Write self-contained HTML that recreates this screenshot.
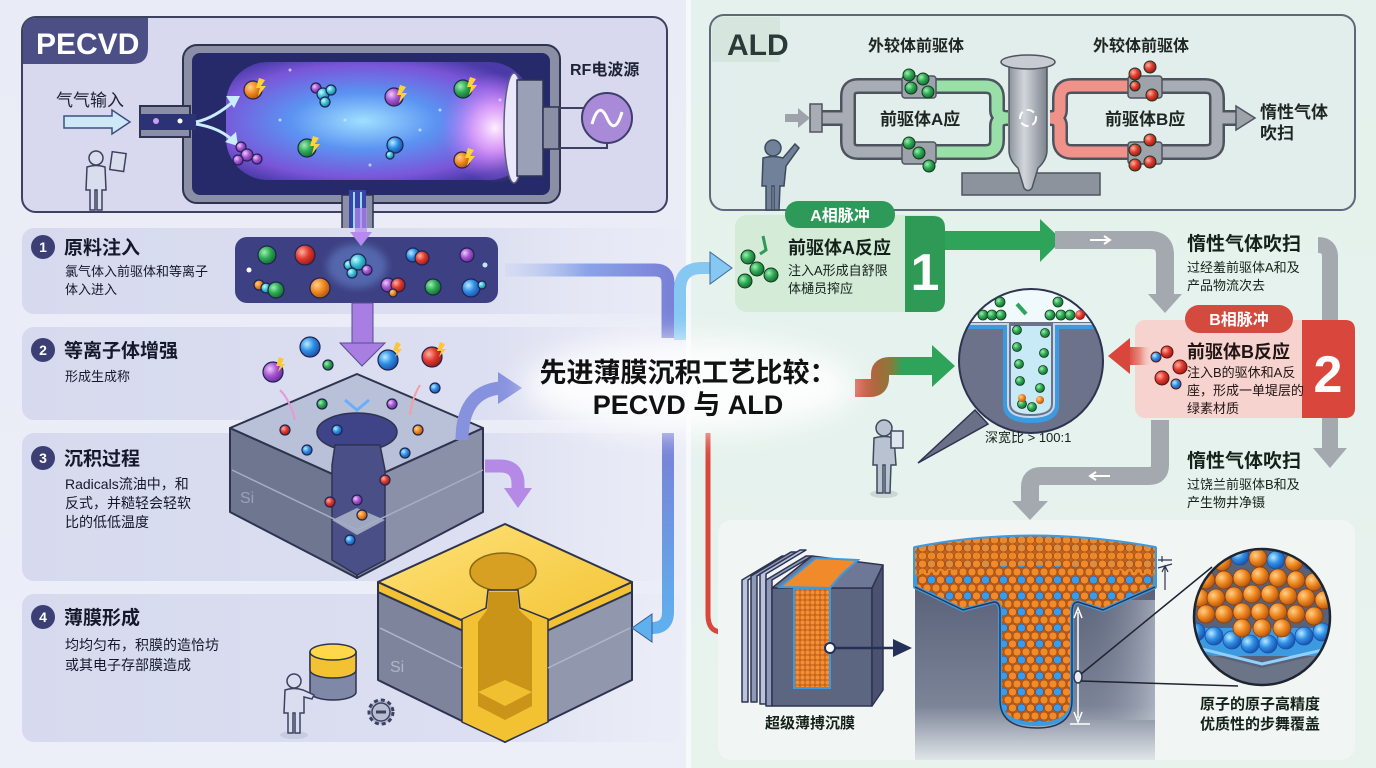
<!DOCTYPE html>
<html><head><meta charset="utf-8"><style>
html,body{margin:0;padding:0;background:#eceef7;}
svg{display:block;}
text{font-family:"Liberation Sans","Noto Sans CJK SC",sans-serif;}
</style></head><body>
<svg width="1376" height="768" viewBox="0 0 1376 768" xmlns="http://www.w3.org/2000/svg">
<defs>
<linearGradient id="bgL" x1="0" y1="0" x2="0" y2="1"><stop offset="0" stop-color="#e9ebf6"/><stop offset="1" stop-color="#eceef8"/></linearGradient>
<linearGradient id="bgR" x1="0" y1="0" x2="0" y2="1"><stop offset="0" stop-color="#e4f1ec"/><stop offset="1" stop-color="#e8f3ee"/></linearGradient>
<linearGradient id="band" x1="0" y1="0" x2="1" y2="0"><stop offset="0" stop-color="#d7daee"/><stop offset="0.7" stop-color="#dcdff1"/><stop offset="1" stop-color="#e6e8f5" stop-opacity="0.2"/></linearGradient>
<radialGradient id="plasma" cx="0.45" cy="0.5" r="0.6"><stop offset="0" stop-color="#9fe0ff"/><stop offset="0.4" stop-color="#5b93f2"/><stop offset="0.8" stop-color="#7a55d8"/><stop offset="1" stop-color="#4b3ba8"/></radialGradient>
<radialGradient id="glowR" cx="0.5" cy="0.5" r="0.5"><stop offset="0" stop-color="#fff0ff"/><stop offset="0.4" stop-color="#f0a8ff" stop-opacity="0.8"/><stop offset="1" stop-color="#c070ff" stop-opacity="0"/></radialGradient>
<radialGradient id="bO" cx="0.35" cy="0.35" r="0.7"><stop offset="0" stop-color="#ffd08a"/><stop offset="0.5" stop-color="#f08a22"/><stop offset="1" stop-color="#b05210"/></radialGradient>
<radialGradient id="bG" cx="0.35" cy="0.35" r="0.7"><stop offset="0" stop-color="#9ef0b0"/><stop offset="0.5" stop-color="#2faa55"/><stop offset="1" stop-color="#146a30"/></radialGradient>
<radialGradient id="bB" cx="0.35" cy="0.35" r="0.7"><stop offset="0" stop-color="#b8ecff"/><stop offset="0.5" stop-color="#2f8fe6"/><stop offset="1" stop-color="#1a4fa8"/></radialGradient>
<radialGradient id="bC" cx="0.35" cy="0.35" r="0.7"><stop offset="0" stop-color="#c8fbff"/><stop offset="0.5" stop-color="#3cc0d8"/><stop offset="1" stop-color="#1a7a98"/></radialGradient>
<radialGradient id="bP" cx="0.35" cy="0.35" r="0.7"><stop offset="0" stop-color="#f0c8ff"/><stop offset="0.5" stop-color="#a555d0"/><stop offset="1" stop-color="#6a2a98"/></radialGradient>
<radialGradient id="bR" cx="0.35" cy="0.35" r="0.7"><stop offset="0" stop-color="#ffb0a0"/><stop offset="0.5" stop-color="#e03a30"/><stop offset="1" stop-color="#981a14"/></radialGradient>
<linearGradient id="reactor" x1="0" y1="0" x2="1" y2="0"><stop offset="0" stop-color="#8d939c"/><stop offset="0.4" stop-color="#d2d6dc"/><stop offset="1" stop-color="#7d838c"/></linearGradient>
<linearGradient id="trenchBody" x1="0" y1="0" x2="0" y2="1"><stop offset="0" stop-color="#586078"/><stop offset="0.7" stop-color="#7c8498"/><stop offset="1" stop-color="#dfe5e8"/></linearGradient>
<linearGradient id="trenchBody2" x1="0" y1="0" x2="1" y2="0"><stop offset="0" stop-color="#586078" stop-opacity="0"/><stop offset="1" stop-color="#c8ced8" stop-opacity="0.6"/></linearGradient>
<linearGradient id="blueArr" x1="0" y1="0" x2="1" y2="0"><stop offset="0" stop-color="#b8c8f0" stop-opacity="0.2"/><stop offset="0.5" stop-color="#8aa4e8"/><stop offset="1" stop-color="#7a82d8"/></linearGradient>
<linearGradient id="blueDown" x1="0" y1="0" x2="0" y2="1"><stop offset="0" stop-color="#7a7fd6"/><stop offset="1" stop-color="#5fb0ee"/></linearGradient>
<linearGradient id="rg" x1="0" y1="0" x2="1" y2="0"><stop offset="0" stop-color="#d8473a"/><stop offset="0.45" stop-color="#8a7a3a"/><stop offset="0.6" stop-color="#2ea35a"/><stop offset="1" stop-color="#2ea35a"/></linearGradient>
<linearGradient id="redArr" x1="1" y1="0" x2="0" y2="0"><stop offset="0" stop-color="#f6d3ce" stop-opacity="0"/><stop offset="0.5" stop-color="#ea8a80"/><stop offset="1" stop-color="#d9473c"/></linearGradient>
<linearGradient id="goldTop" x1="0" y1="0" x2="1" y2="1"><stop offset="0" stop-color="#ffe27a"/><stop offset="1" stop-color="#f2c230"/></linearGradient>
<pattern id="atoms" width="9" height="8" patternUnits="userSpaceOnUse"><rect width="9" height="8" fill="#c0601c"/><circle cx="4.5" cy="4" r="4" fill="#f08a2a" stroke="#8a3d0e" stroke-width="0.5"/></pattern>
<pattern id="atomsB" width="18" height="16" patternUnits="userSpaceOnUse"><rect width="18" height="16" fill="#b85a1a"/><circle cx="4.5" cy="4" r="4" fill="#f08a2a" stroke="#8a3d0e" stroke-width="0.5"/><circle cx="13.5" cy="4" r="4" fill="#3a9be6" stroke="#1a4fa8" stroke-width="0.5"/><circle cx="9" cy="12" r="4" fill="#f08a2a" stroke="#8a3d0e" stroke-width="0.5"/><circle cx="0" cy="12" r="4" fill="#f08a2a" stroke="#8a3d0e" stroke-width="0.5"/><circle cx="18" cy="12" r="4" fill="#f08a2a" stroke="#8a3d0e" stroke-width="0.5"/></pattern>
<pattern id="atomsS" width="5" height="5" patternUnits="userSpaceOnUse"><rect width="5" height="5" fill="#c8661e"/><circle cx="2.5" cy="2.5" r="2" fill="#f29035"/></pattern>
<clipPath id="magClip"><circle cx="1262" cy="617" r="68"/></clipPath>
<clipPath id="trClip"><circle cx="1031" cy="361" r="72"/></clipPath>
<filter id="blur" x="-50%" y="-50%" width="200%" height="200%"><feGaussianBlur stdDeviation="14"/></filter>
<filter id="blur4"><feGaussianBlur stdDeviation="4"/></filter>
</defs>

<!-- backgrounds -->
<rect x="0" y="0" width="689" height="768" fill="url(#bgL)"/>
<rect x="689" y="0" width="687" height="768" fill="url(#bgR)"/>
<rect x="686" y="0" width="5" height="768" fill="#f6f8fb"/>

<!-- ============ PECVD PANEL ============ -->
<rect x="22" y="17" width="645" height="195" rx="14" fill="#d8d8ee" stroke="#3d4160" stroke-width="2"/>
<path d="M23,31 Q23,18 36,18 H148 V48 Q148,64 132,64 H23 Z" fill="#4b4f85"/>
<text x="36" y="54" font-size="30" font-weight="bold" fill="#ffffff">PECVD</text>

<text x="56" y="106" font-size="17" fill="#1e2235">气气输入</text>
<path d="M64,116 H112 V110 L130,122 L112,134 V128 H64 Z" fill="#cfe8f8" stroke="#3d5080" stroke-width="1.5"/>

<!-- chamber -->
<rect x="183" y="45" width="377" height="158" rx="14" fill="#8a8fa6" stroke="#2e3350" stroke-width="2"/>
<rect x="140" y="106" width="50" height="31" fill="#8a8fa6" stroke="#2e3350" stroke-width="2"/>
<rect x="192" y="53" width="358" height="142" rx="8" fill="#262a6a"/>
<rect x="140" y="114" width="56" height="16" fill="#2c3276"/>
<rect x="226" y="62" width="305" height="118" rx="42" fill="url(#plasma)"/>
<ellipse cx="495" cy="128" rx="55" ry="55" fill="url(#glowR)"/>
<path d="M196,122 Q215,118 235,100" stroke="#c9ecff" stroke-width="3" fill="none"/>
<path d="M226,96 L240,96 L234,108 Z" fill="#c9ecff"/>
<path d="M196,124 Q220,128 232,140" stroke="#c9ecff" stroke-width="3" fill="none"/>
<path d="M225,142 L238,146 L236,132 Z" fill="#c9ecff"/>
<circle cx="156" cy="121" r="3" fill="#c9a0f0"/><circle cx="180" cy="121" r="2.5" fill="#ffffff"/>
<ellipse cx="514" cy="128" rx="10" ry="55" fill="#ece8fb" stroke="#5a5f80" stroke-width="1.5"/>
<rect x="517" y="80" width="26" height="96" fill="#9aa0b6" stroke="#2e3350" stroke-width="1.5"/>
<rect x="543" y="107" width="16" height="42" fill="#8a8fa6" stroke="#2e3350" stroke-width="1.5"/>
<path d="M559,108 H607 V92 M559,148 H607 V144" stroke="#3d4160" stroke-width="2" fill="none"/>
<circle cx="607" cy="118" r="25" fill="#a98ad9" stroke="#3d3f6a" stroke-width="2"/>
<path d="M592,124 Q599,100 607,118 Q615,136 622,112" stroke="#fff" stroke-width="3" fill="none"/>
<text x="570" y="75" font-size="16" font-weight="bold" fill="#1e2235">RF电波源</text>
<rect x="342" y="195" width="31" height="45" fill="#8a8fa6" stroke="#2e3350" stroke-width="1.5"/>
<rect x="349" y="190" width="17" height="52" fill="#3a44a8"/>
<path d="M354,192 V240 M361,192 V240" stroke="#9ad8ff" stroke-width="2"/>
<g stroke="#1f2450" stroke-width="1.2">
<circle cx="253" cy="90" r="9" fill="url(#bO)"/>
<circle cx="316" cy="88" r="5" fill="url(#bP)"/><circle cx="323" cy="94" r="6" fill="url(#bC)"/><circle cx="331" cy="90" r="5" fill="url(#bC)"/><circle cx="325" cy="102" r="5" fill="url(#bC)"/>
<circle cx="394" cy="97" r="9" fill="url(#bP)"/>
<circle cx="463" cy="89" r="9" fill="url(#bG)"/>
<circle cx="241" cy="147" r="5" fill="url(#bP)"/><circle cx="247" cy="155" r="6" fill="url(#bP)"/><circle cx="238" cy="160" r="5" fill="url(#bP)"/><circle cx="257" cy="159" r="5" fill="url(#bP)"/>
<circle cx="307" cy="148" r="9" fill="url(#bG)"/>
<circle cx="395" cy="145" r="8" fill="url(#bB)"/><circle cx="390" cy="155" r="4" fill="url(#bC)"/>
<circle cx="462" cy="160" r="8" fill="url(#bO)"/>
</g>
<g fill="#ffd23a"><path d="M259,78 L265,80 L261,86 L266,86 L258,96 L260,88 L256,88 Z"/><path d="M400,85 L406,87 L402,93 L407,93 L399,103 L401,95 L397,95 Z"/><path d="M470,77 L476,79 L472,85 L477,85 L469,95 L471,87 L467,87 Z"/><path d="M313,136 L319,138 L315,144 L320,144 L312,154 L314,146 L310,146 Z"/><path d="M468,148 L474,150 L470,156 L475,156 L467,166 L469,158 L465,158 Z"/></g>
<g fill="#cfe0ff" opacity="0.8"><circle cx="290" cy="70" r="1.5"/><circle cx="345" cy="120" r="1.5"/><circle cx="420" cy="130" r="1.5"/><circle cx="280" cy="120" r="1.5"/><circle cx="440" cy="110" r="1.5"/><circle cx="370" cy="165" r="1.5"/><circle cx="500" cy="100" r="1.5"/></g>

<g transform="translate(96,210)" fill="#dadded" stroke="#3d4160" stroke-width="1.5">
<circle cx="0" cy="-52" r="7"/>
<path d="M-9,-43 Q0,-46 9,-43 L10,-20 L6,-20 L6,0 L1,0 L1,-20 L-1,-20 L-1,0 L-6,0 L-6,-20 L-10,-20 Z"/>
<rect x="8" y="-60" width="14" height="18" transform="rotate(8)"/>
</g>

<!-- ============ STEP BANDS ============ -->
<rect x="22" y="228" width="660" height="86" rx="12" fill="url(#band)"/>
<rect x="22" y="327" width="660" height="93" rx="12" fill="url(#band)"/>
<rect x="22" y="433" width="660" height="148" rx="12" fill="url(#band)"/>
<rect x="22" y="594" width="660" height="148" rx="12" fill="url(#band)"/>

<g font-weight="bold" fill="#ffffff" font-size="14" text-anchor="middle">
<circle cx="43" cy="247" r="12" fill="#3c3f73"/><text x="43" y="252">1</text>
<circle cx="43" cy="350" r="12" fill="#3c3f73"/><text x="43" y="355">2</text>
<circle cx="43" cy="458" r="12" fill="#3c3f73"/><text x="43" y="463">3</text>
<circle cx="43" cy="617" r="12" fill="#3c3f73"/><text x="43" y="622">4</text>
</g>
<g fill="#14182a">
<text x="64" y="254" font-size="19" font-weight="bold">原料注入</text>
<text x="65" y="276" font-size="13">氯气体入前驱体和等离子</text>
<text x="65" y="294" font-size="13">体入进入</text>
<text x="64" y="357" font-size="19" font-weight="bold">等离子体增强</text>
<text x="65" y="381" font-size="13">形成生成称</text>
<text x="64" y="465" font-size="19" font-weight="bold">沉积过程</text>
<text x="65" y="489" font-size="14">Radicals流油中，和</text>
<text x="65" y="508" font-size="14">反式，并糙轻会轻软</text>
<text x="65" y="527" font-size="14">比的低低温度</text>
<text x="64" y="624" font-size="19" font-weight="bold">薄膜形成</text>
<text x="65" y="650" font-size="14">均均匀布，积膜的造恰坊</text>
<text x="65" y="670" font-size="14">或其电子存部膜造成</text>
</g>

<rect x="235" y="237" width="263" height="66" rx="12" fill="#3d4082"/>
<ellipse cx="357" cy="266" rx="30" ry="22" fill="#7fb0ff" opacity="0.35" filter="url(#blur4)"/>
<g stroke="#1f2450" stroke-width="1.2">
<circle cx="267" cy="255" r="9" fill="url(#bG)"/>
<circle cx="305" cy="255" r="10" fill="url(#bR)"/>
<circle cx="349" cy="265" r="5" fill="url(#bC)"/><circle cx="358" cy="262" r="8" fill="url(#bC)"/><circle cx="367" cy="270" r="5" fill="url(#bP)"/><circle cx="352" cy="273" r="5" fill="url(#bC)"/>
<circle cx="413" cy="255" r="7" fill="url(#bB)"/><circle cx="422" cy="258" r="7" fill="url(#bR)"/>
<circle cx="467" cy="255" r="7" fill="url(#bP)"/>
<circle cx="259" cy="285" r="5" fill="url(#bO)"/><circle cx="266" cy="288" r="5" fill="url(#bC)"/><circle cx="276" cy="290" r="8" fill="url(#bG)"/>
<circle cx="320" cy="288" r="10" fill="url(#bO)"/>
<circle cx="388" cy="285" r="7" fill="url(#bP)"/><circle cx="398" cy="285" r="7" fill="url(#bR)"/><circle cx="393" cy="293" r="4" fill="url(#bO)"/>
<circle cx="433" cy="287" r="8" fill="url(#bG)"/>
<circle cx="471" cy="288" r="9" fill="url(#bB)"/><circle cx="482" cy="285" r="4" fill="url(#bC)"/>
</g>
<circle cx="249" cy="270" r="2.5" fill="#fff"/><circle cx="485" cy="265" r="2.5" fill="#bfe8ff"/>

<rect x="355" y="208" width="12" height="26" fill="#b78af0" opacity="0.7"/>
<path d="M350,232 L372,232 L361,246 Z" fill="#b78af0"/>
<rect x="352" y="303" width="21" height="42" fill="#a97ee2" stroke="#5a4a90" stroke-width="1"/>
<path d="M340,343 L385,343 L362,366 Z" fill="#a97ee2" stroke="#5a4a90" stroke-width="1"/>

<!-- Si block 1 -->
<g stroke="#2e3350" stroke-width="2" stroke-linejoin="round">
<path d="M230,428 L357,485 L357,578 L230,512 Z" fill="#6f7690"/>
<path d="M357,485 L483,428 L483,512 L357,578 Z" fill="#8a90a8"/>
<path d="M230,428 L357,374 L483,428 L357,485 Z" fill="#b9c1d8"/>
</g>
<ellipse cx="357" cy="432" rx="40" ry="19" fill="#3f4388" stroke="#2e3350" stroke-width="1.5"/>
<path d="M335,445 L380,445 L385,470 L385,560 L357,575 L332,560 L332,465 Z" fill="#4a4f88" stroke="#2e3350" stroke-width="1.5"/>
<path d="M332,520 L357,508 L385,520 L357,535 Z" fill="#9ea6c0"/>
<path d="M232,470 L357,530 M357,530 L483,470" stroke="#a7aec4" stroke-width="1.5"/>
<text x="240" y="503" font-size="16" fill="#9aa2b8">Si</text>
<g stroke="#1f2450" stroke-width="1.2">
<circle cx="310" cy="347" r="10" fill="url(#bB)"/>
<circle cx="273" cy="372" r="10" fill="url(#bP)"/>
<circle cx="328" cy="365" r="5" fill="url(#bG)"/>
<circle cx="388" cy="360" r="10" fill="url(#bB)"/>
<circle cx="432" cy="357" r="10" fill="url(#bR)"/>
<circle cx="435" cy="388" r="5" fill="url(#bB)"/>
<circle cx="322" cy="404" r="5" fill="url(#bG)"/>
<circle cx="392" cy="404" r="5" fill="url(#bP)"/>
<circle cx="285" cy="430" r="5" fill="url(#bR)"/>
<circle cx="337" cy="430" r="5" fill="url(#bB)"/>
<circle cx="418" cy="430" r="5" fill="url(#bO)"/>
<circle cx="307" cy="450" r="5" fill="url(#bB)"/>
<circle cx="405" cy="453" r="5" fill="url(#bB)"/>
<circle cx="357" cy="500" r="5" fill="url(#bP)"/>
<circle cx="385" cy="480" r="5" fill="url(#bR)"/>
<circle cx="330" cy="502" r="5" fill="url(#bR)"/>
<circle cx="362" cy="515" r="5" fill="url(#bO)"/>
<circle cx="350" cy="540" r="5" fill="url(#bB)"/>
</g>
<g fill="#ffc53a"><path d="M279,357 L284,359 L281,364 L285,364 L278,372 L280,366 L276,366 Z"/><path d="M396,342 L401,344 L398,349 L402,349 L395,357 L397,351 L393,351 Z"/><path d="M440,342 L445,344 L442,349 L446,349 L439,357 L441,351 L437,351 Z"/></g>
<path d="M345,400 L357,410 L369,400" stroke="#6aaef8" stroke-width="3" fill="none"/>
<path d="M280,390 Q290,400 295,420" stroke="#e49ad8" stroke-width="2" fill="none"/>
<path d="M420,385 Q412,398 410,415" stroke="#f0a0a0" stroke-width="2" fill="none"/>

<path d="M462,440 Q462,392 500,388" stroke="#8792de" stroke-width="13" fill="none"/>
<path d="M498,372 L522,388 L498,404 Z" fill="#8792de"/>
<path d="M485,466 H500 Q518,466 518,484 V490" stroke="#b48ae6" stroke-width="13" fill="none"/>
<path d="M504,488 L532,488 L518,508 Z" fill="#b48ae6"/>

<!-- gold block -->
<g stroke="#2e3350" stroke-width="2" stroke-linejoin="round">
<path d="M378,582 L505,640 L505,742 L378,680 Z" fill="#7d849c"/>
<path d="M505,640 L632,582 L632,680 L505,742 Z" fill="#9197ad"/>
<path d="M378,582 L378,592 L505,650 L632,592 L632,582 L505,640 Z" fill="#f2c232"/>
<path d="M378,582 L505,524 L632,582 L505,640 Z" fill="url(#goldTop)"/>
</g>
<ellipse cx="503" cy="572" rx="33" ry="19" fill="#d8a022" stroke="#8a6a10" stroke-width="1.5"/>
<path d="M462,619 L486,608 L488,590 L518,590 L520,608 L548,619 L548,722 L505,742 L462,722 Z" fill="#f2c232" stroke="#2e3350" stroke-width="1.5"/>
<path d="M489,592 L517,592 L519,610 L532,622 L532,706 L505,720 L478,706 L478,622 L487,610 Z" fill="#c99418"/>
<path d="M478,692 L505,680 L532,692 L505,706 Z" fill="#f0c030"/>
<path d="M380,628 L462,668 M548,668 L630,628" stroke="#b0b6c8" stroke-width="1.5"/>
<text x="390" y="672" font-size="16" fill="#b0b6c8">Si</text>

<g stroke="#2e3350" stroke-width="1.5">
<path d="M310,652 V692 A23,8 0 0 0 356,692 V652 Z" fill="#8088a8"/>
<path d="M310,652 V670 A23,8 0 0 0 356,670 V652 Z" fill="#f2c232"/>
<ellipse cx="333" cy="652" rx="23" ry="8" fill="#ffd84a"/>
</g>
<ellipse cx="294" cy="735" rx="14" ry="4" fill="#c8cce0"/>
<g transform="translate(294,733)" fill="#dadded" stroke="#3d4160" stroke-width="1.5">
<circle cx="0" cy="-52" r="7"/>
<path d="M-9,-43 Q0,-46 9,-43 L20,-38 L18,-34 L10,-36 L10,-20 L6,-20 L6,0 L1,0 L1,-20 L-1,-20 L-1,0 L-6,0 L-6,-20 L-10,-20 Z"/>
</g>
<g transform="translate(381,712)"><circle r="12" fill="#b8bed2" stroke="#3d4160" stroke-width="3" stroke-dasharray="4 3"/><circle r="9" fill="#b8bed2" stroke="#3d4160" stroke-width="1.5"/><rect x="-5" y="-1.5" width="10" height="3" fill="#3d4160"/></g>

<path d="M505,270 H655 Q668,270 668,283 V338" stroke="url(#blueArr)" stroke-width="13" fill="none"/>
<path d="M668,433 V612 Q668,628 652,628 H650" stroke="url(#blueDown)" stroke-width="12" fill="none"/>
<path d="M652,614 L632,628 L652,642 Z" fill="#5fb0ee" stroke="#3d5a90" stroke-width="1"/>
<path d="M680,340 V290 Q680,268 702,268 H712" stroke="#86c8f2" stroke-width="12" fill="none"/>
<path d="M710,252 L732,268 L710,284 Z" fill="#86c8f2" stroke="#3d6a9a" stroke-width="1"/>

<!-- ============ ALD PANEL ============ -->
<rect x="710" y="15" width="645" height="195" rx="14" fill="#e2eeeb" stroke="#5f6878" stroke-width="2"/>
<path d="M712,29 Q712,17 724,17 H780 V62 H712 Z" fill="#d6e6df"/>
<text x="727" y="55" font-size="30" font-weight="bold" fill="#2a3a38">ALD</text>
<text x="868" y="51" font-size="16" font-weight="bold" fill="#1e2622">外较体前驱体</text>
<text x="1093" y="51" font-size="16" font-weight="bold" fill="#1e2622">外较体前驱体</text>

<path d="M816,118 H848 M848,118 V96 Q848,86 858,86 H985 Q997,86 997,98 V110 Q997,118 1008,118 M848,118 V142 Q848,152 858,152 H985 Q997,152 997,140 V126 Q997,118 1008,118" stroke="#4e545e" stroke-width="16" fill="none"/>
<path d="M816,118 H848 M848,118 V96 Q848,86 858,86 H930 M848,118 V142 Q848,152 858,152 H930" stroke="#a8adb5" stroke-width="11" fill="none"/>
<path d="M930,86 H985 Q997,86 997,98 V110 Q997,118 1008,118 M930,152 H985 Q997,152 997,140 V126 Q997,118 1008,118" stroke="#98e0a8" stroke-width="11" fill="none"/>
<rect x="810" y="104" width="12" height="28" fill="#a8adb5" stroke="#4e545e" stroke-width="1.5"/>
<path d="M785,114 H798 V108 L810,118 L798,128 V122 H785 Z" fill="#9ea3ab"/>
<path d="M1050,118 Q1060,118 1060,110 V98 Q1060,86 1072,86 H1205 Q1217,86 1217,98 V142 Q1217,152 1205,152 H1072 Q1060,152 1060,140 V126 Q1060,118 1050,118 M1217,118 H1238" stroke="#4e545e" stroke-width="16" fill="none"/>
<path d="M1130,86 H1205 Q1217,86 1217,98 V142 Q1217,152 1205,152 H1130 M1217,118 H1238" stroke="#a8adb5" stroke-width="11" fill="none"/>
<path d="M1050,118 Q1060,118 1060,110 V98 Q1060,86 1072,86 H1130 M1050,118 Q1060,118 1060,126 V140 Q1060,152 1072,152 H1130" stroke="#f0928a" stroke-width="11" fill="none"/>
<path d="M1236,106 L1255,118 L1236,130 Z" fill="#9ea3ab" stroke="#4e545e" stroke-width="1.5"/>
<g stroke="#4e545e" stroke-width="1.5" fill="#9ea3ab">
<rect x="902" y="76" width="34" height="22" rx="3"/><rect x="902" y="142" width="34" height="22" rx="3"/>
<rect x="1128" y="76" width="34" height="22" rx="3"/><rect x="1128" y="142" width="34" height="22" rx="3"/>
</g>
<g stroke="#14381e" stroke-width="1">
<circle cx="909" cy="75" r="6" fill="url(#bG)"/><circle cx="923" cy="79" r="6" fill="url(#bG)"/><circle cx="911" cy="88" r="6" fill="url(#bG)"/><circle cx="928" cy="92" r="6" fill="url(#bG)"/>
<circle cx="909" cy="143" r="6" fill="url(#bG)"/><circle cx="919" cy="153" r="6" fill="url(#bG)"/><circle cx="929" cy="166" r="6" fill="url(#bG)"/>
<circle cx="1135" cy="74" r="6" fill="url(#bR)"/><circle cx="1150" cy="67" r="6" fill="url(#bR)"/><circle cx="1135" cy="86" r="5" fill="url(#bR)"/><circle cx="1152" cy="95" r="6" fill="url(#bR)"/>
<circle cx="1150" cy="140" r="6" fill="url(#bR)"/><circle cx="1135" cy="150" r="6" fill="url(#bR)"/><circle cx="1135" cy="165" r="6" fill="url(#bR)"/><circle cx="1150" cy="162" r="6" fill="url(#bR)"/>
</g>
<rect x="962" y="173" width="138" height="22" fill="#8d939c" stroke="#4e545e" stroke-width="1.5"/>
<path d="M1009,62 V150 Q1009,160 1018,168 L1024,188 Q1028,193 1032,188 L1038,168 Q1047,160 1047,150 V62 Z" fill="url(#reactor)" stroke="#4e545e" stroke-width="1.5"/>
<ellipse cx="1028" cy="62" rx="27" ry="7" fill="#c8ccd2" stroke="#4e545e" stroke-width="1.5"/>
<circle cx="1028" cy="118" r="8" fill="none" stroke="#ffffff" stroke-width="2" stroke-dasharray="8 4"/>
<text x="880" y="125" font-size="17" font-weight="bold" fill="#1e2622">前驱体A应</text>
<text x="1105" y="125" font-size="17" font-weight="bold" fill="#1e2622">前驱体B应</text>
<text x="1260" y="118" font-size="17" font-weight="bold" fill="#1e2622">惰性气体</text>
<text x="1260" y="139" font-size="17" font-weight="bold" fill="#1e2622">吹扫</text>
<g transform="translate(773,210)" fill="#71819a" stroke="#3d4a5e" stroke-width="1.5">
<circle cx="0" cy="-62" r="8"/>
<path d="M-10,-52 Q0,-55 10,-52 L22,-66 L26,-62 L13,-44 L11,-24 L7,-24 L6,0 L1,0 L1,-24 L-1,-24 L-1,0 L-7,0 L-7,-24 L-11,-24 Z"/>
</g>

<!-- A phase box -->
<rect x="735" y="215" width="210" height="97" rx="12" fill="#d3ebd7"/>
<path d="M905,216 H933 Q945,216 945,228 V300 Q945,312 933,312 H905 Z" fill="#2e9a55"/>
<text x="925" y="290" font-size="52" font-weight="bold" fill="#ffffff" text-anchor="middle">1</text>
<rect x="785" y="201" width="110" height="27" rx="13" fill="#2e9a5a"/>
<text x="840" y="221" font-size="16" font-weight="bold" fill="#ffffff" text-anchor="middle">A相脉冲</text>
<text x="788" y="254" font-size="18" font-weight="bold" fill="#14201a">前驱体A反应</text>
<text x="788" y="275" font-size="13" fill="#14201a">注入A形成自舒限</text>
<text x="788" y="293" font-size="13" fill="#14201a">体樋员搾应</text>
<g stroke="#14381e" stroke-width="1">
<circle cx="748" cy="257" r="7" fill="url(#bG)"/><circle cx="757" cy="269" r="7" fill="url(#bG)"/><circle cx="771" cy="275" r="7" fill="url(#bG)"/><circle cx="745" cy="281" r="7" fill="url(#bG)"/>
</g>
<path d="M763,236 L766,250 L760,254" stroke="#2e9a55" stroke-width="3" fill="none"/>

<rect x="945" y="231" width="97" height="19" fill="#2ea35a"/>
<path d="M1040,219 L1062,240 L1040,262 Z" fill="#2ea35a"/>
<path d="M1055,240 H1150 Q1165,240 1165,255 V296" stroke="#a4a8af" stroke-width="18" fill="none"/>
<path d="M1148,294 L1182,294 L1165,313 Z" fill="#a4a8af"/>
<path d="M1090,240 H1108 M1104,236 L1110,240 L1104,244" stroke="#ffffff" stroke-width="2" fill="none"/>
<text x="1187" y="250" font-size="19" font-weight="bold" fill="#14201a">惰性气体吹扫</text>
<text x="1187" y="272" font-size="13" fill="#14201a">过经羞前驱体A和及</text>
<text x="1187" y="290" font-size="13" fill="#14201a">产品物流次去</text>
<path d="M1318,245 Q1330,245 1330,257 V450" stroke="#a4a8af" stroke-width="16" fill="none"/>
<path d="M1313,448 L1347,448 L1330,468 Z" fill="#a4a8af"/>

<!-- B phase box -->
<rect x="1135" y="320" width="220" height="98" rx="10" fill="#f6d3ce"/>
<path d="M1302,320 H1345 Q1355,320 1355,330 V408 Q1355,418 1345,418 H1302 Z" fill="#d9473c"/>
<text x="1328" y="392" font-size="52" font-weight="bold" fill="#ffffff" text-anchor="middle">2</text>
<rect x="1185" y="305" width="108" height="28" rx="14" fill="#d44a3e"/>
<text x="1239" y="325" font-size="16" font-weight="bold" fill="#ffffff" text-anchor="middle">B相脉冲</text>
<text x="1187" y="358" font-size="18" font-weight="bold" fill="#201414">前驱体B反应</text>
<text x="1187" y="377" font-size="13" fill="#201414">注入B的驱休和A反</text>
<text x="1187" y="395" font-size="13" fill="#201414">座，形成一单堤层的</text>
<text x="1187" y="413" font-size="13" fill="#201414">绿素材质</text>
<g stroke="#5a1414" stroke-width="1">
<circle cx="1156" cy="357" r="5" fill="url(#bB)"/><circle cx="1167" cy="352" r="6" fill="url(#bR)"/><circle cx="1180" cy="367" r="7" fill="url(#bR)"/><circle cx="1162" cy="378" r="7" fill="url(#bR)"/><circle cx="1176" cy="384" r="5" fill="url(#bB)"/>
</g>
<rect x="1128" y="347" width="24" height="18" fill="url(#redArr)"/>
<path d="M1130,338 L1108,356 L1130,374 Z" fill="#d9473c"/>

<!-- magnified trench circle -->
<path d="M975,410 L988,424 L918,463 Z" fill="#6a7088" stroke="#2e3350" stroke-width="1.5"/>
<circle cx="1031" cy="361" r="72" fill="#e8f6fb"/>
<g clip-path="url(#trClip)">
<rect x="950" y="320" width="170" height="120" fill="#6b7289"/>
<path d="M950,326 H1006 V405 Q1006,420 1031,420 Q1056,420 1056,405 V326 H1110" stroke="#3c9be0" stroke-width="6" fill="none"/>
<path d="M950,324 H1008 V404 Q1008,417 1031,417 Q1054,417 1054,404 V324 H1110" stroke="#c8d8ea" stroke-width="2" fill="none"/>
<path d="M1011,326 V404 Q1011,414 1031,414 Q1051,414 1051,404 V326 Z" fill="#c8eaf6"/>
<rect x="950" y="290" width="170" height="32" fill="#f0f9fc"/>
</g>
<circle cx="1031" cy="361" r="72" fill="none" stroke="#2e3350" stroke-width="2"/>
<g stroke="#14381e" stroke-width="0.8" fill="url(#bG)">
<circle cx="983" cy="315" r="5"/><circle cx="992" cy="315" r="5"/><circle cx="1001" cy="315" r="5"/><circle cx="1000" cy="302" r="5"/>
<circle cx="1050" cy="315" r="5"/><circle cx="1061" cy="315" r="5"/><circle cx="1070" cy="315" r="5"/><circle cx="1058" cy="302" r="5"/>
<circle cx="1017" cy="330" r="4.5"/><circle cx="1017" cy="347" r="4.5"/><circle cx="1019" cy="364" r="4.5"/><circle cx="1020" cy="381" r="4.5"/><circle cx="1022" cy="404" r="4.5"/><circle cx="1032" cy="407" r="4.5"/>
<circle cx="1045" cy="333" r="4.5"/><circle cx="1044" cy="353" r="4.5"/><circle cx="1043" cy="370" r="4.5"/><circle cx="1040" cy="388" r="4.5"/>
</g>
<circle cx="1022" cy="398" r="4" fill="url(#bO)"/><circle cx="1040" cy="400" r="4" fill="url(#bO)"/><circle cx="1080" cy="315" r="5" fill="url(#bR)"/>
<path d="M1017,304 L1026,314" stroke="#2ea35a" stroke-width="4"/>
<text x="985" y="442" font-size="13" fill="#14201a">深宽比 &gt; 100:1</text>

<path d="M855,388 H870 Q880,388 880,378 V374 Q880,366 890,366 H934" stroke="url(#rg)" stroke-width="18" fill="none"/>
<path d="M932,345 L955,366 L932,387 Z" fill="#2ea35a"/>

<ellipse cx="884" cy="494" rx="14" ry="4" fill="#ccd6d4"/>
<g transform="translate(884,493)" fill="#b8c2d0" stroke="#3d4a5e" stroke-width="1.5">
<circle cx="0" cy="-65" r="8"/>
<path d="M-10,-55 Q0,-58 10,-55 L12,-28 L7,-28 L6,0 L1,0 L1,-28 L-1,-28 L-1,0 L-7,0 L-7,-28 L-11,-28 Z"/>
<rect x="7" y="-62" width="12" height="17" fill="#dfe5ee"/>
</g>

<path d="M1160,420 V465 Q1160,476 1149,476 H1041 Q1030,476 1030,487 V503" stroke="#a4a8af" stroke-width="18" fill="none"/>
<path d="M1012,501 L1048,501 L1030,520 Z" fill="#a4a8af"/>
<path d="M1110,476 H1092 M1096,472 L1090,476 L1096,480" stroke="#ffffff" stroke-width="2" fill="none"/>
<text x="1187" y="467" font-size="19" font-weight="bold" fill="#14201a">惰性气体吹扫</text>
<text x="1187" y="489" font-size="13" fill="#14201a">过饶兰前驱体B和及</text>
<text x="1187" y="507" font-size="13" fill="#14201a">产生物井净镊</text>

<path d="M708,433 V615 Q708,632 722,632" stroke="#d9473c" stroke-width="5" fill="none"/>
<path d="M720,623 L736,632 L720,641 Z" fill="#d9473c"/>

<ellipse cx="690" cy="386" rx="165" ry="46" fill="#ffffff" opacity="0.9" filter="url(#blur)"/>
<text x="688" y="382" font-size="27" font-weight="bold" fill="#111111" text-anchor="middle">先进薄膜沉积工艺比较：</text>
<text x="688" y="414" font-size="27" font-weight="bold" fill="#111111" text-anchor="middle">PECVD 与 ALD</text>

<!-- ============ BOTTOM PANEL ============ -->
<rect x="718" y="520" width="637" height="240" rx="14" fill="#f1f6f4"/>
<g stroke="#2e3350" stroke-width="1.5" stroke-linejoin="round">
<path d="M742,580 L782,556 L788,556 L748,580 L748,702 L742,702 Z" fill="#b9c3dc"/>
<path d="M751,576 L791,552 L797,552 L757,576 L757,702 L751,702 Z" fill="#8e99b8"/>
<path d="M760,574 L800,550 L806,550 L766,574 L766,704 L760,704 Z" fill="#b9c3dc"/>
<path d="M766,580 L806,556 L812,556 L772,580 L772,706 L766,706 Z" fill="#8e99b8"/>
<path d="M772,588 L872,588 L872,706 L772,706 Z" fill="#5d6680"/>
<path d="M872,588 L883,565 L883,690 L872,706 Z" fill="#4a5270"/>
<path d="M772,588 L812,556 L883,565 L872,588 Z" fill="#6e7896"/>
</g>
<path d="M780,587 L816,558 L858,560 L842,574 L830,588 Z" fill="#f08a2a" stroke="#3c9be0" stroke-width="2"/>
<path d="M794,588 L830,588 L830,688 L794,688 Z" fill="url(#atomsS)" stroke="#3c9be0" stroke-width="2"/>
<line x1="830" y1="648" x2="895" y2="648" stroke="#243058" stroke-width="2.5"/>
<circle cx="830" cy="648" r="5" fill="#ffffff" stroke="#243058" stroke-width="2"/>
<path d="M893,639 L912,648 L893,657 Z" fill="#243058"/>
<text x="765" y="728" font-size="15" font-weight="bold" fill="#14201a">超级薄搏沉膜</text>

<rect x="915" y="580" width="240" height="180" fill="url(#trenchBody)"/>
<rect x="1072" y="600" width="83" height="120" fill="url(#trenchBody2)"/>
<path d="M915,548 Q1030,525 1155,548 L1155,587 L1103,610 L1078,602 Q1072,602 1072,612 L1072,700 Q1072,724 1037,724 Q1000,724 1000,700 L1000,612 Q1000,602 994,602 L963,610 L915,587 Z" fill="url(#atomsB)" stroke="#3c9be0" stroke-width="4" stroke-linejoin="round"/>
<path d="M915,587 L963,610 L994,602 Q1000,602 1000,612 L1000,700 Q1000,728 1037,728 Q1072,728 1072,700 L1072,612 Q1072,602 1078,602 L1103,610 L1155,587" stroke="#2e3350" stroke-width="1.5" fill="none"/>
<path d="M915,548 Q1030,525 1155,548 L1155,575 Q1030,556 915,575 Z" fill="url(#atoms)" opacity="0.9"/>
<line x1="1078" y1="612" x2="1078" y2="718" stroke="#ffffff" stroke-width="1.5"/>
<path d="M1074,618 L1078,608 L1082,618 M1074,712 L1078,722 L1082,712" stroke="#ffffff" stroke-width="1.5" fill="none"/>
<line x1="1070" y1="724" x2="1090" y2="724" stroke="#ffffff" stroke-width="1.5"/>
<ellipse cx="1078" cy="677" rx="4" ry="6" fill="#e8ecf4" stroke="#2e3350" stroke-width="1.5"/>
<path d="M1162,556 V562 M1158,560 L1172,560 M1158,568 L1172,564 M1165,566 V590 M1162,572 L1165,566 L1168,572" stroke="#2e3350" stroke-width="1.2" fill="none"/>
<line x1="1081" y1="674" x2="1212" y2="567" stroke="#1e2430" stroke-width="1.5"/>
<line x1="1081" y1="681" x2="1238" y2="686" stroke="#1e2430" stroke-width="1.5"/>

<g clip-path="url(#magClip)">
<rect x="1190" y="545" width="150" height="150" fill="#5a6278"/>
<rect x="1190" y="628" width="150" height="28" fill="#3c9be0"/>
<path d="M1190,650 L1262,668 L1340,650 L1340,700 L1190,700 Z" fill="#6c7488"/>
<path d="M1190,646 L1262,664 L1340,646" stroke="#8fd0ff" stroke-width="3" fill="none"/>
<g stroke="#1a4fa8" stroke-width="0.8" fill="url(#bB)">
<circle cx="1196" cy="632" r="9"/><circle cx="1214" cy="636" r="9"/><circle cx="1232" cy="640" r="9"/><circle cx="1250" cy="644" r="9"/><circle cx="1268" cy="644" r="9"/><circle cx="1286" cy="640" r="9"/><circle cx="1304" cy="636" r="9"/><circle cx="1322" cy="632" r="9"/>
<circle cx="1240" cy="556" r="9"/><circle cx="1276" cy="560" r="9"/><circle cx="1310" cy="560" r="9"/>
</g>
<g stroke="#8a3d0e" stroke-width="0.8" fill="url(#bO)">
<circle cx="1222" cy="562" r="9"/><circle cx="1258" cy="558" r="9"/><circle cx="1294" cy="562" r="9"/><circle cx="1328" cy="566" r="9"/>
<circle cx="1206" cy="580" r="9"/><circle cx="1224" cy="580" r="9"/><circle cx="1242" cy="578" r="9"/><circle cx="1260" cy="576" r="9"/><circle cx="1278" cy="578" r="9"/><circle cx="1296" cy="580" r="9"/><circle cx="1314" cy="582" r="9"/>
<circle cx="1200" cy="598" r="9"/><circle cx="1216" cy="598" r="9"/><circle cx="1234" cy="596" r="9"/><circle cx="1252" cy="594" r="9"/><circle cx="1270" cy="594" r="9"/><circle cx="1288" cy="596" r="9"/><circle cx="1306" cy="598" r="9"/><circle cx="1324" cy="600" r="9"/>
<circle cx="1206" cy="614" r="9"/><circle cx="1224" cy="614" r="9"/><circle cx="1242" cy="612" r="9"/><circle cx="1260" cy="612" r="9"/><circle cx="1278" cy="612" r="9"/><circle cx="1296" cy="614" r="9"/><circle cx="1314" cy="616" r="9"/>
<circle cx="1242" cy="628" r="9"/><circle cx="1262" cy="628" r="9"/><circle cx="1282" cy="628" r="9"/>
</g>
</g>
<circle cx="1262" cy="617" r="68" fill="none" stroke="#1e2430" stroke-width="2.5"/>
<text x="1200" y="709" font-size="15" font-weight="bold" fill="#14201a">原子的原子高精度</text>
<text x="1200" y="729" font-size="15" font-weight="bold" fill="#14201a">优质性的步舞覆盖</text>
</svg>
</body></html>
